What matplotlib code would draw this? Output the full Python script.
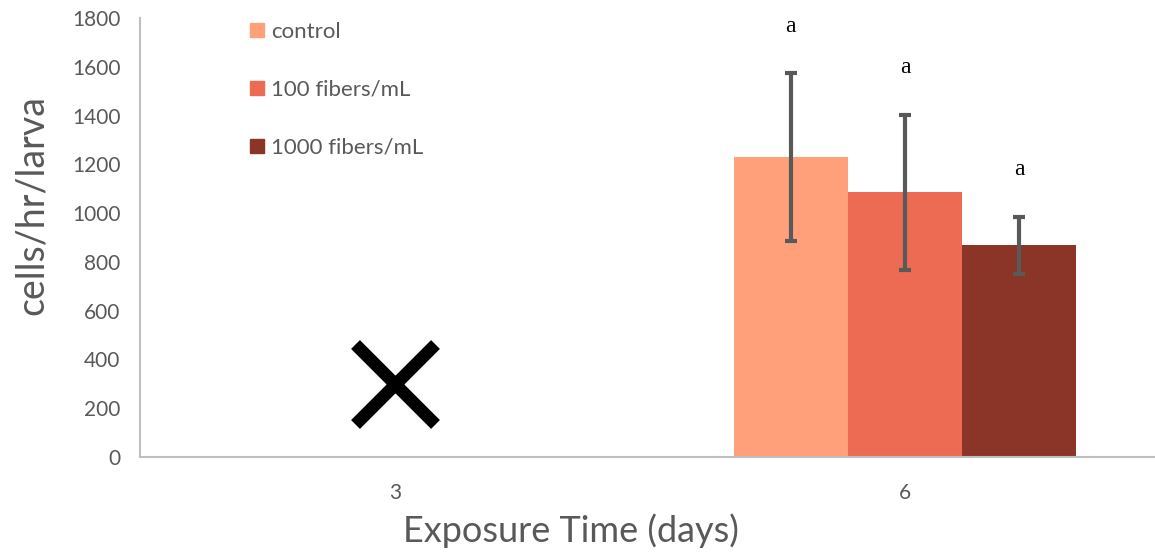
import matplotlib
matplotlib.use('Agg')
import numpy as np
import matplotlib.pyplot as plt
from matplotlib.lines import Line2D

# data
days = ['3', '6']
groups = ['control', '100 fibers/mL', '1000 fibers/mL']
means_day6 = [1230, 1086, 869]
err_day6 = [345, 318, 117]
letters = ['a', 'a', 'a']
no_data_y = 300  # "X" drawn where day 3 has no data

colors = ['#FFA07A', '#ED6B52', '#8B3428']
grey = '#595959'

plt.rcParams['font.family'] = ['Lato', 'DejaVu Sans']

fig = plt.figure(figsize=(11.55, 5.54), dpi=100)
ax = fig.add_axes([0.1212, 0.1751, 0.8788, 0.7924])

x = np.arange(len(days))
w = 0.224
for i, (g, m, e, c) in enumerate(zip(groups, means_day6, err_day6, colors)):
    xi = x[1] + (i - 1) * w
    ax.bar(xi, m, width=w, color=c, label=g, zorder=2)
    ax.errorbar(xi, m, yerr=e, fmt='none', ecolor=grey, elinewidth=3,
                capsize=4.5, capthick=3, zorder=3)
    ax.annotate(letters[i], (xi, m + e), xytext=(0, 26), textcoords='offset points',
                ha='center', va='bottom', fontsize=17, family='Liberation Serif',
                color='black')

# no data for day 3
ax.plot([x[0]], [no_data_y], marker='x', markersize=58, markeredgewidth=9,
        color='black', zorder=3)

ax.set_xlim(-0.5, 1.49)
ax.set_ylim(0, 1800)
ax.set_yticks(range(0, 1801, 200))
ax.set_xticks(x)
ax.set_xticklabels(days)
ax.tick_params(axis='both', length=0, labelsize=15, colors=grey)
ax.tick_params(axis='y', pad=14)
ax.tick_params(axis='x', pad=19)

for s in ['top', 'right']:
    ax.spines[s].set_visible(False)
ax.spines['left'].set_color('#BFBFBF')
ax.spines['bottom'].set_color('#BFBFBF')
ax.spines['left'].set_linewidth(1.5)
ax.spines['bottom'].set_linewidth(1.5)

ax.set_ylabel('cells/hr/larva', fontsize=27, color=grey, labelpad=16)
ax.yaxis.label.set_y(0.574)
ax.set_xlabel('Exposure Time (days)', fontsize=26, color=grey, labelpad=7)
ax.xaxis.label.set_x(0.425)

handles = [Line2D([], [], marker='s', linestyle='none', markersize=10,
                  markerfacecolor=c, markeredgecolor=c) for c in colors]
leg = ax.legend(handles, groups, loc='upper left', bbox_to_anchor=(0.085, 1.037),
                frameon=False, fontsize=16, labelspacing=1.7, handletextpad=0.1,
                handlelength=1.0, labelcolor=grey)

fig.savefig('out.png', dpi=100)
